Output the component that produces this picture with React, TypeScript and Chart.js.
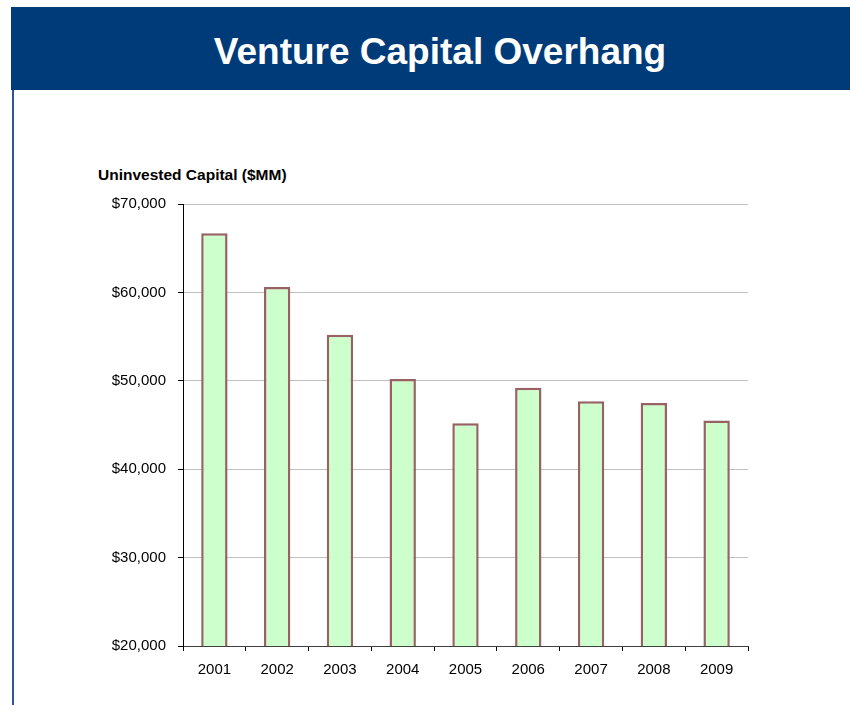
import React, { useEffect, useRef } from "react";
import Chart from "chart.js/auto";

const categories = ["2001", "2002", "2003", "2004", "2005", "2006", "2007", "2008", "2009"];
const uninvestedCapital = [66700, 60600, 55200, 50200, 45200, 49200, 47700, 47500, 45500];
const yMin = 20000;
const yMax = 70000;
const yStep = 10000;

const FONT = "'Liberation Sans', Arial, sans-serif";

export default function App() {
  const ref = useRef<HTMLCanvasElement | null>(null);

  useEffect(() => {
    const canvas = ref.current;
    if (!canvas) return;
    const chart = new Chart(canvas, {
      type: "bar",
      data: {
        labels: categories,
        datasets: [
          {
            data: uninvestedCapital,
            backgroundColor: "#CCFFCC",
            borderColor: "#986262",
            borderWidth: 2.5,
            borderSkipped: false,
            barPercentage: 0.42,
            categoryPercentage: 1,
          },
        ],
      },
      options: {
        animation: false,
        responsive: false,
        devicePixelRatio: 1,
        layout: { padding: { top: 54, right: 102, bottom: 19, left: 0 } },
        plugins: {
          legend: { display: false },
          tooltip: { enabled: false },
          title: { display: false },
        },
        scales: {
          x: {
            offset: true,
            grid: {
              display: true,
              offset: true,
              drawOnChartArea: false,
              drawTicks: true,
              tickLength: 5,
              tickColor: "#000000",
              color: "#000000",
            },
            border: { display: true, color: "#404040", width: 1 },
            ticks: {
              color: "#000000",
              font: { family: FONT, size: 15 },
              padding: 10,
              maxRotation: 0,
            },
            afterFit: (scale: any) => {
              scale.height = 40;
            },
          },
          y: {
            min: yMin,
            max: yMax,
            grid: {
              color: "#C0C0C0",
              lineWidth: 1,
              drawTicks: true,
              tickLength: 5,
              tickColor: "#000000",
            },
            border: { display: true, color: "#000000", width: 1 },
            ticks: {
              stepSize: yStep,
              color: "#000000",
              font: { family: FONT, size: 15 },
              padding: 12,
              callback: (v: any) => "$" + Number(v).toLocaleString("en-US"),
            },
            afterFit: (scale: any) => {
              scale.width = 183;
            },
          },
        },
      },
    });
    return () => chart.destroy();
  }, []);

  return (
    <div
      style={{
        position: "fixed",
        left: 0,
        top: 0,
        width: 850,
        height: 705,
        background: "#ffffff",
        overflow: "hidden",
        fontFamily: FONT,
      }}
    >
      <div
        style={{
          position: "absolute",
          left: 11,
          top: 7,
          width: 839,
          height: 83,
          background: "#003B79",
        }}
      />
      <div
        style={{
          position: "absolute",
          left: 12,
          top: 90,
          width: 2,
          height: 615,
          background: "#2F5597",
        }}
      />
      <div
        style={{
          position: "absolute",
          left: 140,
          top: 30,
          width: 600,
          textAlign: "center",
          color: "#ffffff",
          fontWeight: "bold",
          fontSize: 37,
          lineHeight: "44px",
          whiteSpace: "nowrap",
        }}
      >
        Venture Capital Overhang
      </div>
      <div
        style={{
          position: "absolute",
          left: 98,
          top: 166,
          color: "#000000",
          fontWeight: "bold",
          fontSize: 15.5,
          lineHeight: "18px",
          whiteSpace: "nowrap",
        }}
      >
        Uninvested Capital ($MM)
      </div>
      <canvas
        ref={ref}
        width={850}
        height={555}
        style={{ position: "absolute", left: 0, top: 150, width: 850, height: 555 }}
      />
    </div>
  );
}
